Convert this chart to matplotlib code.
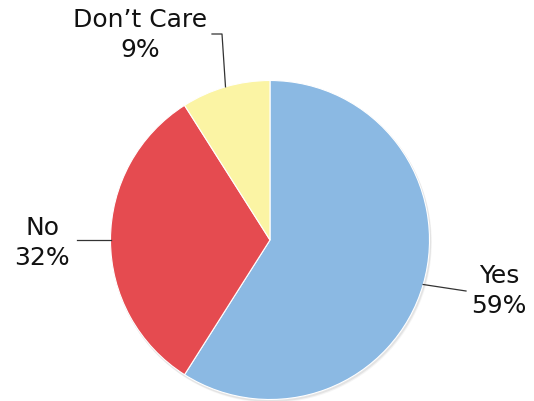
import numpy as np
import matplotlib
matplotlib.use("Agg")
import matplotlib.pyplot as plt
from matplotlib.patches import Circle

categories = ["Yes", "No", "Don\u2019t Care"]
values = [59, 32, 9]
colors = ["#8BB9E3", "#E54B50", "#FBF4A4"]

W, H = 534, 402
fig = plt.figure(figsize=(W / 100, H / 100), dpi=100)
ax = fig.add_axes([0, 0, 1, 1])
ax.set_xlim(0, W)
ax.set_ylim(0, H)
ax.set_aspect("equal")
ax.axis("off")

cx, cy, r = 270, H - 241, 159.5

# soft drop shadow behind the pie
for k, a in [(2.5, 0.10), (1.5, 0.18)]:
    ax.add_patch(Circle((cx + k * 0.6, cy - k), r + 0.8, color="#9a9a9a",
                        alpha=a, lw=0, zorder=0))

wedges, _ = ax.pie(values, colors=colors, startangle=90, counterclock=False,
                   center=(cx, cy), radius=r,
                   wedgeprops=dict(linewidth=0.8, edgecolor="white"))
ax.set_xlim(0, W)
ax.set_ylim(0, H)

# leader line end points and label anchors (pixels from top-left)
leaders = {
    "Yes": [(466, 292)],
    "No": [(77, 241)],
    "Don\u2019t Care": [(222, 35), (212, 35)],
}
label_pos = {
    "Yes": (499, 291),
    "No": (42, 243),
    "Don\u2019t Care": (140, 35),
}

for w, cat, v in zip(wedges, categories, values):
    mid = np.deg2rad((w.theta1 + w.theta2) / 2)
    start = (cx + r * np.cos(mid), cy + r * np.sin(mid))
    pts = [start] + [(x, H - y) for x, y in leaders[cat]]
    xs, ys = zip(*pts)
    ax.plot(xs, ys, color="#333333", lw=0.9, zorder=5)
    lx, ly = label_pos[cat]
    ax.text(lx, H - ly, f"{cat}\n{v}%", ha="center", va="center",
            fontsize=18, family="DejaVu Sans", linespacing=1.3,
            color="#111111")

fig.savefig("out.png", dpi=100, facecolor="white")
